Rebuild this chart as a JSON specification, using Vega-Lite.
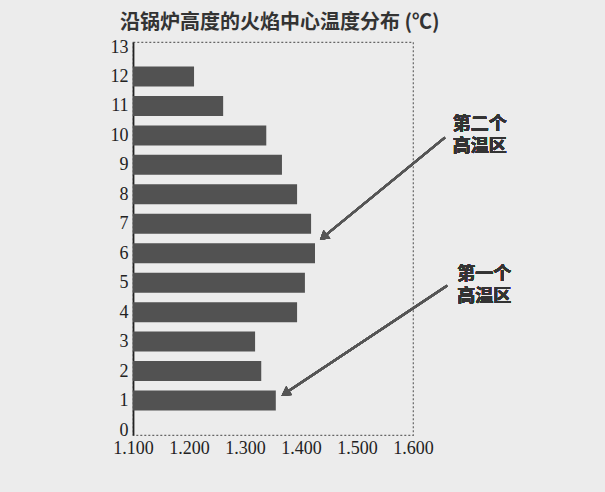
{
  "$schema": "https://vega.github.io/schema/vega-lite/v6.json",
  "width": 280,
  "height": 393,
  "autosize": {"type": "none"},
  "padding": {"left": 133, "top": 42, "right": 192, "bottom": 57},
  "background": "#ececec",
  "config": {
    "view": {"stroke": "#666", "strokeDash": [2, 2], "strokeWidth": 1.2},
    "axisX": {"domain": false, "ticks": false, "grid": false, "title": null, "labelFont": "Liberation Serif", "labelFontSize": 18, "labelColor": "#222", "labelFlush": false, "labelOverlap": false, "labelPadding": 4},
    "axisY": {"domain": true, "domainColor": "#222", "domainWidth": 1.8, "ticks": false, "grid": false, "title": null, "labelFont": "Liberation Serif", "labelFontSize": 18, "labelColor": "#222", "labelFlush": false, "labelOverlap": false, "labelBound": false, "labelPadding": 5}
  },
  "title": {
    "text": "沿锅炉高度的火焰中心温度分布 (℃)",
    "anchor": "start",
    "frame": "group",
    "dx": -13,
    "offset": 5,
    "font": "Noto Sans CJK SC",
    "fontSize": 20,
    "fontWeight": "bold",
    "color": "#333"
  },
  "data": {
    "values": [
      {"height": 1, "temp": 1.355},
      {"height": 2, "temp": 1.329},
      {"height": 3, "temp": 1.318},
      {"height": 4, "temp": 1.393},
      {"height": 5, "temp": 1.407},
      {"height": 6, "temp": 1.425},
      {"height": 7, "temp": 1.418},
      {"height": 8, "temp": 1.393},
      {"height": 9, "temp": 1.366},
      {"height": 10, "temp": 1.338},
      {"height": 11, "temp": 1.261},
      {"height": 12, "temp": 1.209}
    ]
  },
  "layer": [
    {
      "mark": {"type": "bar", "color": "#525252", "size": 20},
      "encoding": {
        "x": {"field": "temp", "type": "quantitative", "scale": {"domain": [1.1, 1.6], "zero": false, "nice": false},
          "axis": {"values": [1.1, 1.2, 1.3, 1.4, 1.5, 1.6], "format": ".3f", "labelOverlap": false, "labelFontSize": 18}},
        "x2": {"datum": 1.1},
        "y": {"field": "height", "type": "quantitative", "scale": {"domain": [0, 13], "nice": false},
          "axis": {"values": [0,1,2,3,4,5,6,7,8,9,10,11,12,13], "format": "d", "labelOverlap": false, "labelFontSize": 18}}
      }
    },
    {
      "mark": {"type": "rule", "color": "#555", "strokeWidth": 2},
      "encoding": {
        "x": {"datum": 1.657, "type": "quantitative", "axis": {"values": [1.1, 1.2, 1.3, 1.4, 1.5, 1.6], "format": ".3f", "labelOverlap": false, "labelFontSize": 18}},
        "y": {"datum": 9.93, "type": "quantitative", "axis": {"values": [0,1,2,3,4,5,6,7,8,9,10,11,12,13], "format": "d", "labelOverlap": false, "labelFontSize": 18}},
        "x2": {"datum": 1.44}, "y2": {"datum": 6.55}}
    },
    {
      "mark": {"type": "point", "shape": "triangle-up", "filled": true, "color": "#555", "size": 110, "angle": 230, "opacity": 1},
      "encoding": {
        "x": {"datum": 1.44, "type": "quantitative", "axis": {"values": [1.1, 1.2, 1.3, 1.4, 1.5, 1.6], "format": ".3f", "labelOverlap": false, "labelFontSize": 18}},
        "y": {"datum": 6.55, "type": "quantitative", "axis": {"values": [0,1,2,3,4,5,6,7,8,9,10,11,12,13], "format": "d", "labelOverlap": false, "labelFontSize": 18}}}
    },
    {
      "mark": {"type": "rule", "color": "#555", "strokeWidth": 2},
      "encoding": {
        "x": {"datum": 1.661, "type": "quantitative", "axis": {"values": [1.1, 1.2, 1.3, 1.4, 1.5, 1.6], "format": ".3f", "labelOverlap": false, "labelFontSize": 18}},
        "y": {"datum": 4.9, "type": "quantitative", "axis": {"values": [0,1,2,3,4,5,6,7,8,9,10,11,12,13], "format": "d", "labelOverlap": false, "labelFontSize": 18}},
        "x2": {"datum": 1.372}, "y2": {"datum": 1.25}}
    },
    {
      "mark": {"type": "point", "shape": "triangle-up", "filled": true, "color": "#555", "size": 110, "angle": 236, "opacity": 1},
      "encoding": {
        "x": {"datum": 1.372, "type": "quantitative", "axis": {"values": [1.1, 1.2, 1.3, 1.4, 1.5, 1.6], "format": ".3f", "labelOverlap": false, "labelFontSize": 18}},
        "y": {"datum": 1.25, "type": "quantitative", "axis": {"values": [0,1,2,3,4,5,6,7,8,9,10,11,12,13], "format": "d", "labelOverlap": false, "labelFontSize": 18}}}
    },
    {
      "mark": {"type": "text", "text": ["第二个", "高温区"], "align": "left", "baseline": "middle", "font": "Noto Sans CJK SC", "fontSize": 18, "fontWeight": "bold", "color": "#333", "lineHeight": 22},
      "encoding": {
        "x": {"datum": 1.671, "type": "quantitative", "axis": {"values": [1.1, 1.2, 1.3, 1.4, 1.5, 1.6], "format": ".3f", "labelOverlap": false, "labelFontSize": 18}},
        "y": {"datum": 10.35, "type": "quantitative", "axis": {"values": [0,1,2,3,4,5,6,7,8,9,10,11,12,13], "format": "d", "labelOverlap": false, "labelFontSize": 18}}}
    },
    {
      "mark": {"type": "text", "text": ["第一个", "高温区"], "align": "left", "baseline": "middle", "font": "Noto Sans CJK SC", "fontSize": 18, "fontWeight": "bold", "color": "#333", "lineHeight": 22},
      "encoding": {
        "x": {"datum": 1.679, "type": "quantitative", "axis": {"values": [1.1, 1.2, 1.3, 1.4, 1.5, 1.6], "format": ".3f", "labelOverlap": false, "labelFontSize": 18}},
        "y": {"datum": 5.27, "type": "quantitative", "axis": {"values": [0,1,2,3,4,5,6,7,8,9,10,11,12,13], "format": "d", "labelOverlap": false, "labelFontSize": 18}}}
    }
  ]
}
